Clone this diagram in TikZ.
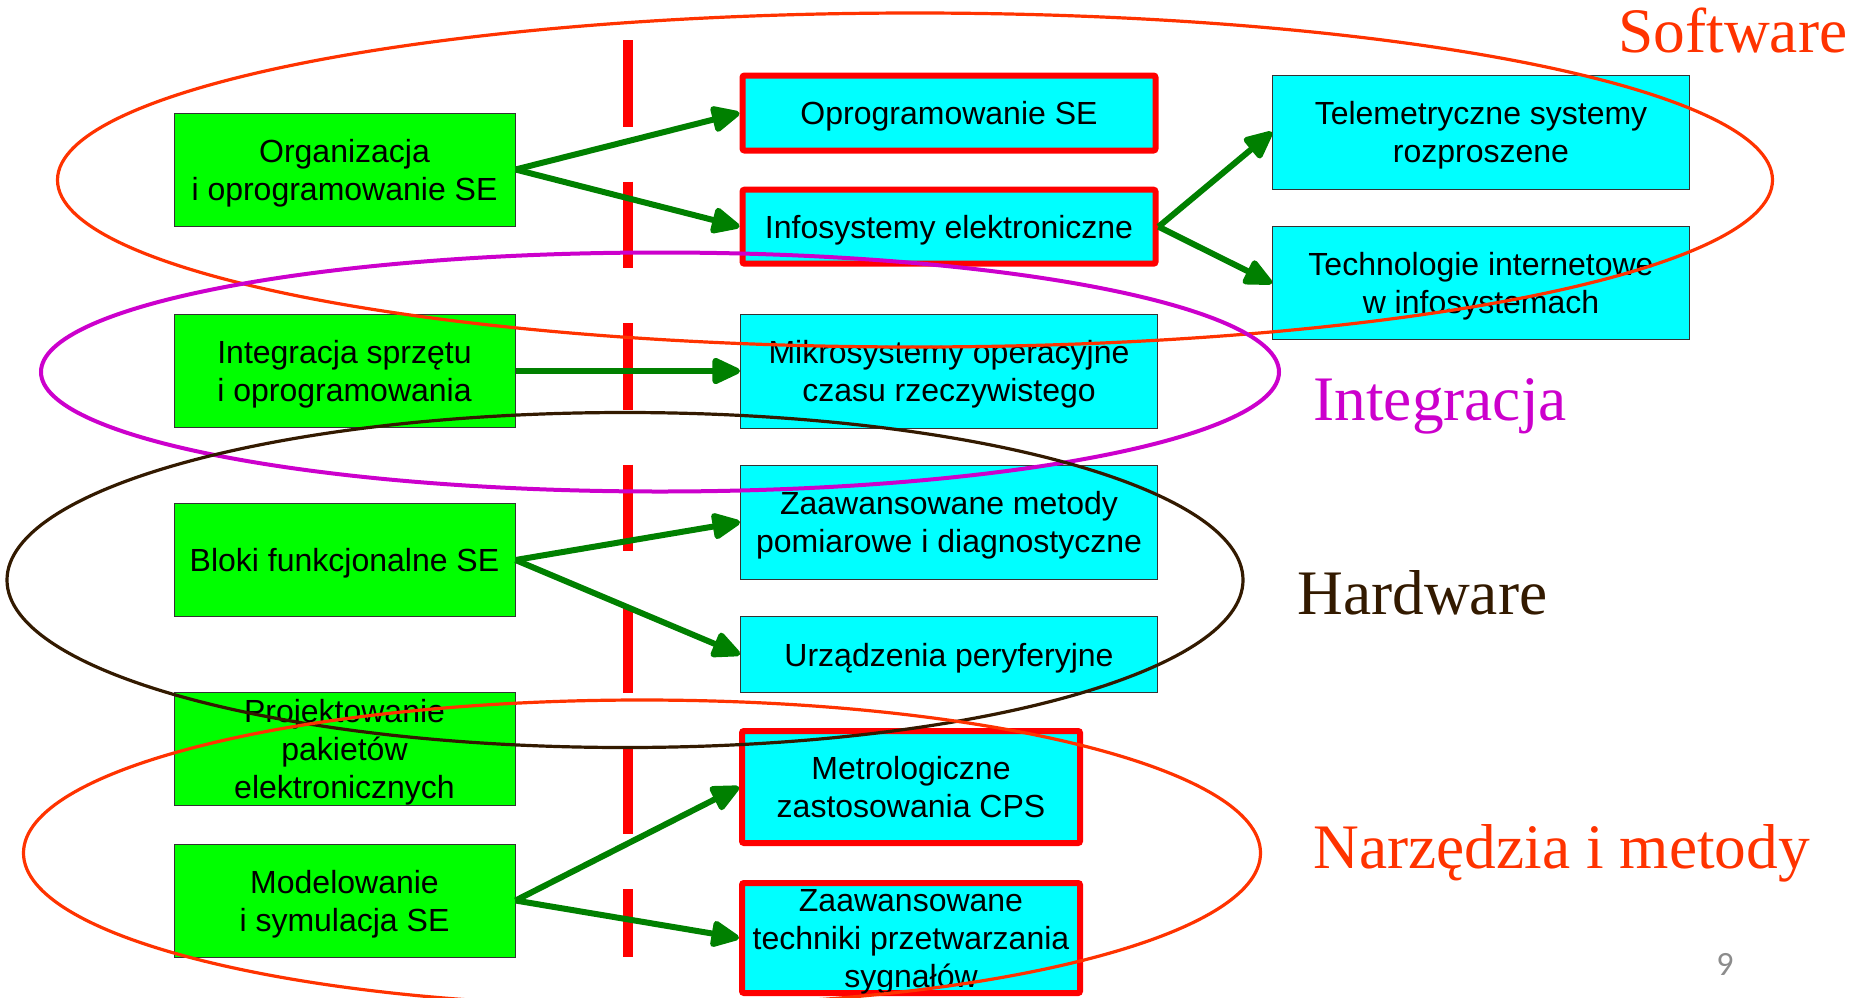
\documentclass[tikz,border=0pt]{standalone}
\usepackage{fontspec}
\setmainfont{Liberation Serif}
\setsansfont{Liberation Sans}
\newfontfamily\pagefont{Carlito}
\usetikzlibrary{arrows.meta}

\definecolor{boxgreen}{HTML}{00FF00}
\definecolor{boxcyan}{HTML}{00FFFF}
\definecolor{linkgreen}{HTML}{008000}
\definecolor{softred}{HTML}{FF3300}
\definecolor{intmagenta}{HTML}{CC00CC}
\definecolor{hardbrown}{HTML}{331A00}

\begin{document}
\begin{tikzpicture}[x=0.5pt, y=-0.5pt,
	box/.style={draw=black!80, line width=0.5pt, inner sep=0pt, align=center, text depth=0pt,
		font=\sffamily\fontsize{16}{19}\selectfont},
	greenbox/.style={box, fill=boxgreen, minimum width=170.5pt, minimum height=56.5pt},
	cyanbox/.style={box, fill=boxcyan, minimum width=208.5pt, minimum height=57pt},
	redbox/.style={box, fill=boxcyan, draw=red, line width=3pt, rounded corners=1pt},
	link/.style={draw=linkgreen, line width=3pt, -{Triangle[length=16pt,width=14pt,round]}},
	group/.style={line width=1.6pt},
	grouplabel/.style={anchor=base west, inner sep=0pt, font=\fontsize{31.7}{38}\selectfont}]
			%%%%% START %%%%%
			\useasboundingbox (0,0) rectangle (1858,997);
			
			\draw[red, line width=5pt, dash pattern=on 43.25pt off 27.5pt] (628,40) -- (628,957);
			
			% left column
			\node[greenbox] (org) at (344.5,169.5) {Organizacja\\i oprogramowanie SE};
			\node[greenbox] (integr) at (344.5,371) {Integracja sprzętu\\i oprogramowania};
			\node[greenbox] (bloki) at (344.5,560) {Bloki funkcjonalne SE};
			\node[greenbox] (projekt) at (344.5,749) {Projektowanie\\pakietów\\elektronicznych};
			\node[greenbox] (model) at (344.5,900.5) {Modelowanie\\i symulacja SE};
			
			% middle column
			\node[redbox, minimum width=206.5pt, minimum height=37.5pt] (opr) at (949,113) {Oprogramowanie SE};
			\node[redbox, minimum width=206.5pt, minimum height=37pt] (info) at (949,226.7) {Infosystemy elektroniczne};
			\node[cyanbox] (mikro) at (949,371) {Mikrosystemy operacyjne\\czasu rzeczywistego};
			\node[cyanbox] (pomiar) at (949,522) {Zaawansowane metody\\pomiarowe i diagnostyczne};
			\node[cyanbox, minimum height=37.8pt] (urz) at (949,654.5) {Urządzenia peryferyjne};
			\node[redbox, minimum width=169pt, minimum height=56pt] (metro) at (911,787) {Metrologiczne\\zastosowania CPS};
			\node[redbox, minimum width=169pt, minimum height=55pt] (sygnal) at (911,938) {Zaawansowane\\techniki przetwarzania\\sygnałów};
			
			% right column
			\node[cyanbox] (tele) at (1481,132) {Telemetryczne systemy\\rozproszene};
			\node[cyanbox, minimum height=56.5pt] (inet) at (1481,283.3) {Technologie internetowe\\w infosystemach};
			
			\draw[link] (org.east) -- (opr.west);
			\draw[link] (org.east) -- (info.west);
			\draw[link] (integr.east) -- (mikro.west);
			\draw[link] (bloki.east) -- (pomiar.west);
			\draw[link] (bloki.east) -- (urz.west);
			\draw[link] (model.east) -- (metro.west);
			\draw[link] (model.east) -- (sygnal.west);
			\draw[link] (info.east) -- (tele.west);
			\draw[link] (info.east) -- (inet.west);
			
			% groups
			\draw[group, softred] (915,180) ellipse [x radius=857.5, y radius=167];
			\draw[group, intmagenta, line width=2pt] (660,372) ellipse [x radius=619, y radius=119.5];
			\draw[group, hardbrown] (625,580) ellipse [x radius=618, y radius=167.5];
			\draw[group, softred] (642,853) ellipse [x radius=618.5, y radius=153];
			
			\node[grouplabel, softred] (software) at (1618,52) {Software};
			\node[grouplabel, intmagenta] (integracja) at (1313,420.7) {Integracja};
			\node[grouplabel, hardbrown] (hardware) at (1297,614) {Hardware};
			\node[grouplabel, softred] (narzedzia) at (1313,868) {Narzędzia i metody};
			
			\node[anchor=base west, inner sep=0pt, text=black!45, font=\pagefont\fontsize{17}{20}\selectfont] (strona) at (1716,975) {9};
			%%%%% END %%%%%
		\end{tikzpicture}
\end{document}
